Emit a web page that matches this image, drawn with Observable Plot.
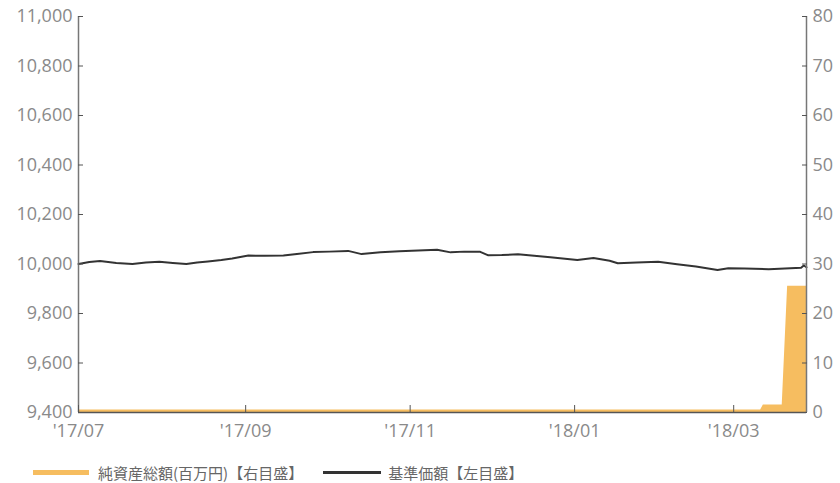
<!DOCTYPE html>
<html>
<head>
<meta charset="utf-8">
<script src="https://cdn.jsdelivr.net/npm/d3@7"></script>
<script src="https://cdn.jsdelivr.net/npm/@observablehq/plot@0.6"></script>
<style>
  body { margin: 0; background: #fff; font-family: "Open Sans", "Noto Sans CJK JP", sans-serif; }
  #chart svg { display: block; }
  .legend { display: flex; align-items: center; height: 46px; padding-left: 33px; font-family: "Noto Sans CJK JP", sans-serif; font-size: 15px; color: #666; }
  .sw { display: inline-block; width: 56px; height: 5px; margin-right: 9px; }
  .item { display: flex; align-items: center; margin-right: 20px; }
</style>
</head>
<body>
<div id="chart"></div>
<div class="legend">
  <span class="item"><span class="sw" style="background:#f6bd60"></span>純資産総額(百万円)【右目盛】</span>
  <span class="item"><span class="sw" style="background:#333;height:3px;width:58px;margin-right:7px"></span>基準価額【左目盛】</span>
</div>
<script>
// 基準価額 (left axis, yen)
const navDates = ["2017-07-01","2017-07-05","2017-07-09","2017-07-15","2017-07-21","2017-07-26","2017-07-31","2017-08-05","2017-08-10","2017-08-14","2017-08-18","2017-08-23","2017-08-27","2017-09-02","2017-09-08","2017-09-15","2017-09-20","2017-09-26","2017-10-02","2017-10-09","2017-10-14","2017-10-21","2017-10-28","2017-11-04","2017-11-11","2017-11-16","2017-11-21","2017-11-27","2017-11-30","2017-12-05","2017-12-11","2017-12-17","2017-12-23","2018-01-02","2018-01-08","2018-01-14","2018-01-17","2018-01-24","2018-02-01","2018-02-08","2018-02-15","2018-02-23","2018-02-27","2018-03-05","2018-03-14","2018-03-20","2018-03-26","2018-03-27","2018-03-28"];
const navValues = [10000,10008,10012,10004,10000,10006,10009,10004,10000,10006,10010,10016,10022,10034,10033,10034,10040,10048,10050,10053,10040,10047,10052,10055,10058,10047,10050,10049,10035,10036,10039,10033,10027,10016,10024,10013,10003,10006,10009,9999,9990,9976,9983,9982,9979,9982,9985,9994,9987];

// 純資産総額 (right axis, million yen)
const assetDates = ["2017-07-01","2018-03-11","2018-03-12","2018-03-19","2018-03-21","2018-03-28"];
const assetValues = [0.5,0.5,1.5,1.5,25.5,25.5];

const leftTicks = [9400,9600,9800,10000,10200,10400,10600,10800,11000];
const rightTicks = [0,10,20,30,40,50,60,70,80];
const xTicks = ["2017-07-01","2017-09-01","2017-11-01","2018-01-01","2018-03-01"];
const xDomain = ["2017-07-01","2018-03-28"];
const yDomain = [9400, 11000];
const rightDomain = [0, 80];

const parse = d3.utcParse("%Y-%m-%d");
const nav = navDates.map((d, i) => ({date: parse(d), v: navValues[i]}));
const assets = assetDates.map((d, i) => ({date: parse(d), v: assetValues[i]}));
// map right-axis values onto the left scale
const toLeft = d3.scaleLinear().domain(rightDomain).range(yDomain);

const axisColor = "#777";
const labelColor = "#8a8a8a";
const fs = 18;
const chart = Plot.plot({
  width: 840,
  height: 449,
  marginLeft: 78,
  marginRight: 34,
  marginTop: 16,
  marginBottom: 37,
  style: {fontFamily: "'Open Sans', sans-serif", fontSize: "18px", color: labelColor, background: "#fff"},
  x: {type: "utc", domain: xDomain.map(parse)},
  y: {domain: yDomain},
  marks: [
    Plot.areaY(assets, {x: "date", y1: yDomain[0], y2: d => toLeft(d.v), fill: "#f6bd60", curve: "linear"}),
    Plot.line(nav, {x: "date", y: "v", stroke: "#333", strokeWidth: 2}),
    Plot.ruleX([parse(xDomain[0]), parse(xDomain[1])], {stroke: axisColor, strokeWidth: 1.5}),
    Plot.ruleY([yDomain[0]], {stroke: "#555", strokeWidth: 1.5}),
    Plot.axisY({anchor: "left", ticks: leftTicks, tickFormat: d3.format(","), tickSize: -5, tickPadding: 11, fontSize: fs, stroke: "#555", label: null, fill: labelColor}),
    Plot.axisY({anchor: "right", ticks: rightTicks.map(v => toLeft(v)), tickFormat: v => String(Math.round(toLeft.invert(v))), tickSize: -5, tickPadding: 11, fontSize: fs, stroke: "#555", label: null, fill: labelColor}),
    Plot.axisX({ticks: xTicks.map(parse), tickFormat: d => "'" + d3.utcFormat("%y/%m")(d), tickSize: -7, tickPadding: 19, fontSize: fs, stroke: "#555", label: null, fill: labelColor})
  ]
});
document.getElementById("chart").appendChild(chart);
</script>
</body>
</html>
